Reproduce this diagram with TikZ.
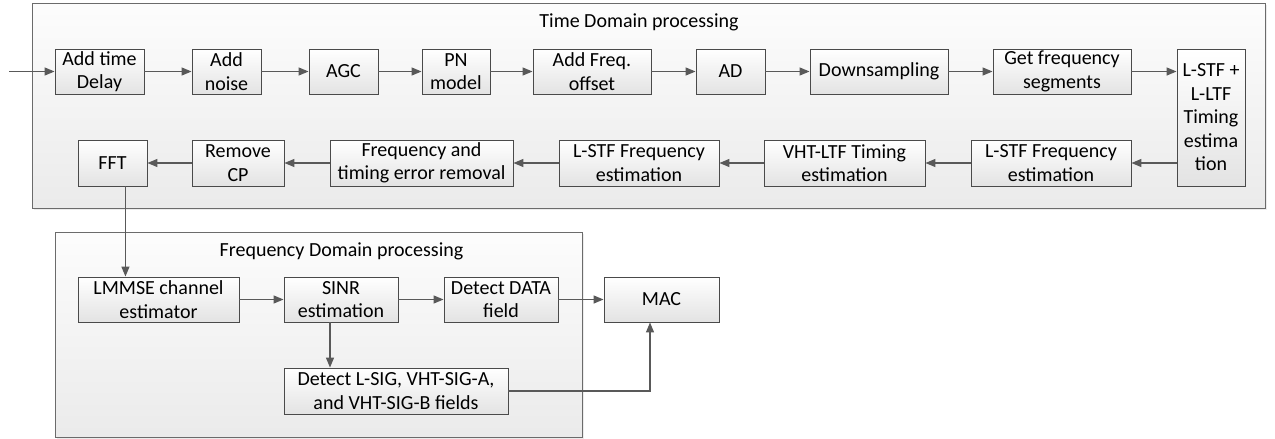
\documentclass[tikz,border=0pt]{standalone}
\usepackage{fontspec}
\setmainfont{Carlito}
\usetikzlibrary{arrows.meta,shadows}
\definecolor{ln}{HTML}{595959}
\definecolor{bx}{HTML}{4A4A4A}
\begin{document}
\begin{tikzpicture}[x=1pt,y=-1pt,
  blk/.style={draw=bx, line width=0.9pt, top color=white, bottom color=black!11, align=center, inner sep=1pt, font=\fontsize{20}{23.5}\selectfont, minimum height=45pt, drop shadow={shadow xshift=1.2pt, shadow yshift=-1.2pt, opacity=0.18}},
  frame/.style={draw=black!58, top color=black!1, bottom color=black!8, line width=0.9pt, inner sep=0pt, drop shadow={shadow xshift=1.2pt, shadow yshift=-1.2pt, opacity=0.15}},
  conn/.style={draw=ln, line width=1.3pt, -{Triangle[length=10pt,width=8pt]}},
  ttl/.style={font=\fontsize{20}{23.5}\selectfont, inner sep=0pt}]
\fill[white] (0,0) rectangle (1275,439);
\useasboundingbox (0,0) rectangle (1275,439);
% containers
\node[frame, minimum width=1233pt, minimum height=205pt, anchor=north west] (tdp) at (32,3) {};
\node[frame, minimum width=527pt, minimum height=205pt, anchor=north west] (fdp) at (55,232) {};
\node[ttl] (ttd) at (639,22) {Time Domain processing};
\node[ttl] (tfd) at (341.5,251) {Frequency Domain processing};
% row 1
\node[blk, minimum width=89pt] (d1) at (99.5,71.5) {Add time\\Delay};
\node[blk, minimum width=69pt] (d2) at (226.5,71.5) {Add\\noise};
\node[blk, minimum width=69pt] (d3) at (343.5,71.5) {AGC};
\node[blk, minimum width=68pt] (d4) at (456,71.5) {PN\\model};
\node[blk, minimum width=118pt] (d5) at (592,71.5) {Add Freq.\\offset};
\node[blk, minimum width=69pt] (d6) at (730.5,71.5) {AD};
\node[blk, minimum width=138pt] (d7) at (879,71.5) {Downsampling};
\node[blk, minimum width=138pt] (d8) at (1062,71.5) {Get frequency\\segments};
\node[blk, minimum width=68pt, minimum height=137pt] (t) at (1211,117.5) {L-STF +\\L-LTF\\Timing\\estima\\tion};
% row 2
\node[blk, minimum width=69pt, minimum height=46pt] (r1) at (112.5,163) {FFT};
\node[blk, minimum width=92pt, minimum height=46pt] (r2) at (238,163) {Remove\\CP};
\node[blk, minimum width=183pt, minimum height=46pt] (r3) at (421.5,163) {Frequency and\\timing error removal};
\node[blk, minimum width=160pt, minimum height=46pt] (r4) at (639,163) {L-STF Frequency\\estimation};
\node[blk, minimum width=161pt, minimum height=46pt] (r5) at (844.5,163) {VHT-LTF Timing\\estimation};
\node[blk, minimum width=160pt, minimum height=46pt] (r6) at (1051,163) {L-STF Frequency\\estimation};
% frequency domain
\node[blk, minimum width=161pt] (lm) at (158.5,299.5) {LMMSE channel\\estimator};
\node[blk, minimum width=114pt] (si) at (341,299.5) {SINR\\estimation};
\node[blk, minimum width=114pt] (dd) at (501,299.5) {Detect DATA\\field};
\node[blk, minimum width=115pt] (mac) at (661.5,299.5) {MAC};
\node[blk, minimum width=224pt, minimum height=46pt] (ls) at (396,391) {Detect L-SIG, VHT-SIG-A,\\and VHT-SIG-B fields};
% connectors
\coordinate (in) at (9,71.5);
\draw[conn] (in) -- (d1);
\draw[conn] (d1) -- (d2);
\draw[conn] (d2) -- (d3);
\draw[conn] (d3) -- (d4);
\draw[conn] (d4) -- (d5);
\draw[conn] (d5) -- (d6);
\draw[conn] (d6) -- (d7);
\draw[conn] (d7) -- (d8);
\draw[conn] (d8.east) -- (d8.east -| t.west);
\draw[conn] (t.west |- r6.east) -- (r6.east);
\draw[conn] (r6) -- (r5);
\draw[conn] (r5) -- (r4);
\draw[conn] (r4) -- (r3);
\draw[conn] (r3) -- (r2);
\draw[conn] (r2) -- (r1);
\draw[conn] ([xshift=-22pt]r1.south east) -- ([xshift=-22pt]r1.south east |- lm.north);
\draw[conn] (lm) -- (si);
\draw[conn] (si) -- (dd);
\draw[conn] (dd) -- (mac);
\draw[conn] ([xshift=-11pt]si.south) -- ([xshift=-11pt]si.south |- ls.north);
\draw[conn] (ls.east) -| ([xshift=-11.5pt]mac.south);
\end{tikzpicture}
\end{document}
